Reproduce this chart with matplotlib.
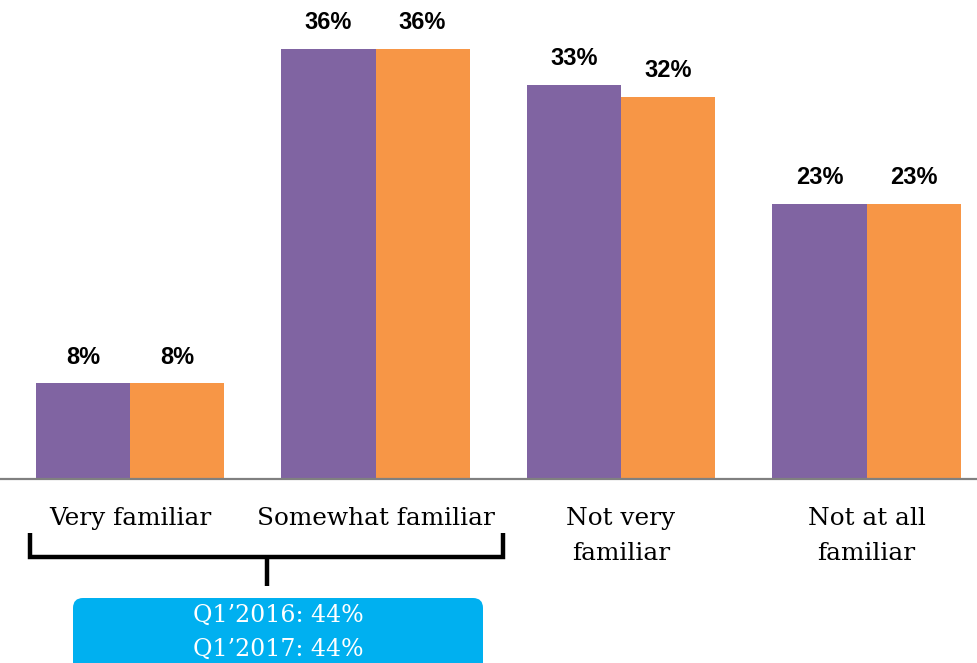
import numpy as np
import matplotlib
matplotlib.use('Agg')
import matplotlib.pyplot as plt
from matplotlib.patches import FancyBboxPatch

# familiarity survey, share of respondents (%)
categories = ['Very familiar', 'Somewhat familiar', 'Not very\nfamiliar', 'Not at all\nfamiliar']
q1_2016 = [8, 36, 33, 23]
q1_2017 = [8, 36, 32, 23]
summary_lines = ['Q1\u20192016: 44%', 'Q1\u20192017: 44%']

purple = '#8064A2'
orange = '#F79646'
blue = '#00B0F0'

fig = plt.figure(figsize=(9.77, 6.63), dpi=100)
ax = fig.add_axes([0, 0.2775, 1, 0.7225])

x = np.arange(len(categories))
w = 0.383
b1 = ax.bar(x - w / 2, q1_2016, w, color=purple)
b2 = ax.bar(x + w / 2, q1_2017, w, color=orange)

for bars, vals in ((b1, q1_2016), (b2, q1_2017)):
    for bar, v in zip(bars, vals):
        ax.annotate('%d%%' % v, (bar.get_x() + bar.get_width() / 2, v),
                    xytext=(0, 19), textcoords='offset points',
                    ha='center', va='center', fontsize=17,
                    fontweight='bold', family='Liberation Sans')

ax.set_xlim(-0.5295, 3.450)
ax.set_ylim(0, 40.1)
ax.set_yticks([])
ax.set_xticks(x)
ax.set_xticklabels(categories, family='DejaVu Serif', fontsize=17.8,
                   linespacing=1.68, va='top')
ax.tick_params(axis='x', length=0, pad=20)
for s in ('top', 'left', 'right'):
    ax.spines[s].set_visible(False)
ax.spines['bottom'].set_color('#808080')
ax.spines['bottom'].set_linewidth(1.6)

# bracket and summary box, in pixel coordinates of the whole figure
ov = fig.add_axes([0, 0, 1, 1], zorder=2)
ov.set_xlim(0, 977)
ov.set_ylim(663, 0)
ov.axis('off')
ov.patch.set_alpha(0)

ov.plot([30, 30, 503, 503], [533, 557, 557, 533], color='black', lw=3.2,
        solid_joinstyle='miter', solid_capstyle='butt')
ov.plot([267, 267], [557, 586], color='black', lw=3.2, solid_capstyle='butt')

box = FancyBboxPatch((81, 606), 394, 80, boxstyle='round,pad=8,rounding_size=10',
                     facecolor=blue, edgecolor='none')
ov.add_patch(box)
for i, line in enumerate(summary_lines):
    ov.text(278, 615 + 34 * i, line, ha='center', va='center', color='white',
            fontsize=17, family='DejaVu Serif')

fig.savefig('out.png', dpi=100)
